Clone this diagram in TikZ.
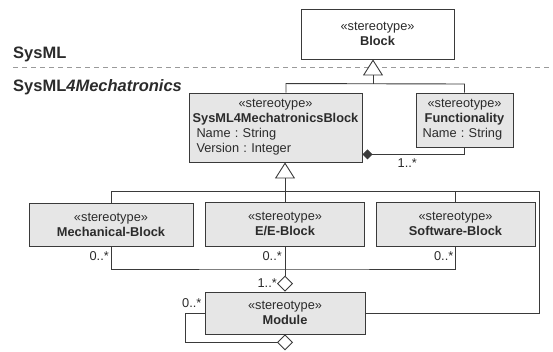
\documentclass[tikz,border=0pt]{standalone}
\usepackage{fontspec}
\setmainfont{Liberation Sans}
\usetikzlibrary{arrows.meta,calc}
\definecolor{linec}{HTML}{3A3A3A}
\definecolor{boxfill}{HTML}{E6E6E6}
\definecolor{txt}{HTML}{2B2B2B}
\definecolor{dashc}{HTML}{9A9A9A}
\newcommand\ctrline[1]{\leavevmode\hbox to\hsize{\hss#1\hss}}
\begin{document}
\frenchspacing
\begin{tikzpicture}[x=1pt,y=-1pt,
  box/.style={draw=linec, line width=0.9pt, fill=boxfill, inner sep=0pt, text=txt,
    font=\fontsize{12.8}{15}\selectfont\frenchspacing, align=center},
  abox/.style={box, align=left},
  conn/.style={draw=linec, line width=0.9pt},
  gen/.style={conn, -{Triangle[fill=white, length=16pt, width=20pt]}},
  agg/.style={conn, -{Diamond[fill=white, length=16pt, width=16pt]}},
  comp/.style={conn, -{Diamond[fill=linec, length=10pt, width=10pt]}},
  mult/.style={text=txt, font=\fontsize{12.8}{15}\selectfont, inner sep=0pt},
  pkg/.style={text=txt, font=\fontsize{16.5}{18}\selectfont\bfseries, inner sep=0pt, anchor=base west}
]
\useasboundingbox (0,0) rectangle (553,352);
% package labels and separator
\node[pkg] (sysml) at (13,59) {SysML};
\node[pkg] (s4m) at (13,92) {SysML\textit{4Mechatronics}};
\coordinate (sepL) at (13,68);
\coordinate (sepR) at (553,68);
\draw[dashc, line width=1pt, dash pattern=on 5pt off 4pt] (sepL) -- (sepR);
% boxes
\node[box, fill=white, minimum width=153pt, minimum height=50pt] (block) at (377.5,34)
  {«stereotype»\\\textbf{Block}};
\node[abox, minimum width=173pt, minimum height=69pt, text width=158pt] (smb) at (275.5,127.5)
  {\ctrline{«stereotype»}\\\ctrline{\textbf{SysML4MechatronicsBlock}}\\Name : String\\Version : Integer};
\node[abox, minimum width=97pt, minimum height=54pt, text width=84pt] (func) at (464.5,120)
  {\ctrline{«stereotype»}\\\ctrline{\textbf{Functionality}}\\Name : String};
\node[box, minimum width=164pt, minimum height=43pt] (mech) at (111,224.5)
  {«stereotype»\\\textbf{Mechanical-Block}};
\node[box, minimum width=159pt, minimum height=44pt] (ee) at (285,224)
  {«stereotype»\\\textbf{E/E-Block}};
\node[box, minimum width=159pt, minimum height=44pt] (sw) at (455.5,224)
  {«stereotype»\\\textbf{Software-Block}};
\node[box, minimum width=160pt, minimum height=42pt] (module) at (285,313)
  {«stereotype»\\\textbf{Module}};
% generalization to Block
\coordinate (g1tip) at ($(block.south)+(-4.5,0)$);
\coordinate (g1j) at (373,84);
\draw[gen] (g1j) -- (g1tip);
\draw[conn] ($(smb.north)+(10.5,0)$) -- ++(0,-9) -- (func.north |- g1j) -- (func.north);
% generalization to SysML4MechatronicsBlock
\coordinate (g2tip) at ($(smb.south)+(9.5,0)$);
\coordinate (rr) at (539,191);
\draw[gen] (ee.north) -- (g2tip);
\draw[conn] (mech.north) |- (rr) |- (module.east);
\draw[conn] (sw.north) -- (sw.north |- rr);
% composition
\coordinate (cend) at ($(smb.south east)+(0,-8)$);
\draw[comp] (func.south) |- (cend);
\node[mult, anchor=west] (m5) at ($(smb.south east)+(35,1)$) {1..*};
% aggregation of blocks in module
\coordinate (aj) at (285,269);
\draw[agg] (ee.south) -- (module.north);
\draw[conn] (mech.south) |- (aj) -| (sw.south);
\node[mult, anchor=east] (m1) at ($(mech.south)+(-2,10)$) {0..*};
\node[mult, anchor=east] (m2) at ($(ee.south)+(-3,10)$) {0..*};
\node[mult, anchor=east] (m3) at ($(sw.south)+(-2,10)$) {0..*};
\node[mult, anchor=east] (m4) at ($(module.north)+(-8,-8)$) {1..*};
% self aggregation
\coordinate (selfend) at ($(module.south)+(8,8)$);
\draw[agg] (module.west) -- ++(-19,0) |- (selfend);
\node[mult, anchor=east] (m6) at ($(module.west)+(-3,-10)$) {0..*};
\end{tikzpicture}
\end{document}
